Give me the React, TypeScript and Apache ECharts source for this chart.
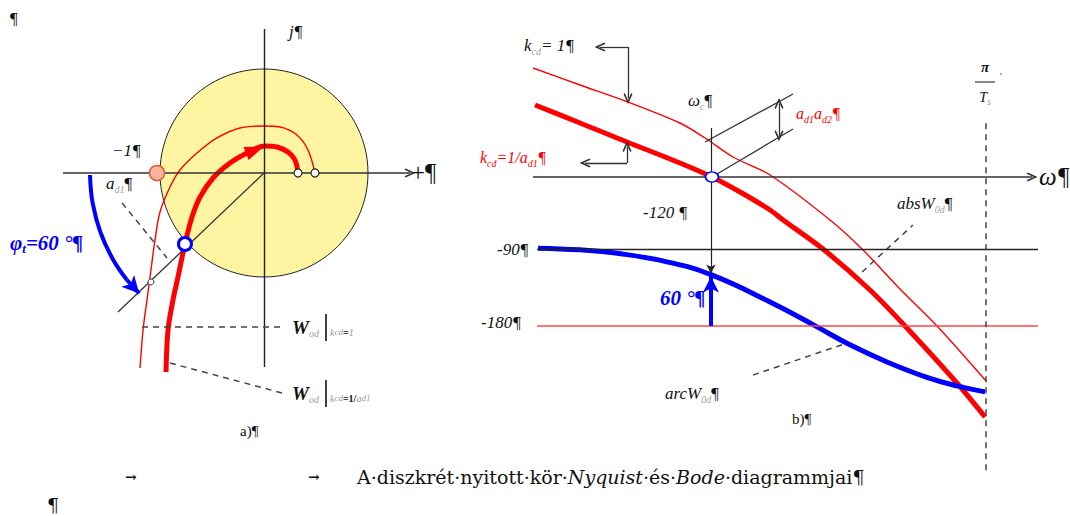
import { useEffect, useRef } from "react";
import * as echarts from "echarts";

const SERIF = "'Liberation Serif', serif";
const SLAB = "'DejaVu Serif', serif";

// ---------- a) Nyquist plane, values as [Re, Im] in units of the unit circle
const nyqUnitCircle = [[0, 0, 1]]; // centre Re, centre Im, radius
const nyqCurveK1 = [
  [0.49, 0], [0.423, 0.221], [0.317, 0.365], [0.154, 0.442], [-0.01, 0.452],
  [-0.231, 0.433], [-0.452, 0.337], [-0.644, 0.192], [-0.808, 0.029], [-0.904, -0.135],
  [-1.0, -0.375], [-1.048, -0.644], [-1.087, -0.933], [-1.125, -1.221], [-1.163, -1.51],
  [-1.192, -1.875],
];
const nyqCurveKd = [
  [0.327, 0], [0.298, 0.125], [0.231, 0.202], [0.125, 0.25], [0.01, 0.26],
  [-0.163, 0.192], [-0.327, 0.096], [-0.49, -0.048], [-0.615, -0.231], [-0.692, -0.423],
  [-0.76, -0.683], [-0.827, -1.0], [-0.875, -1.221], [-0.923, -1.51], [-0.942, -1.913],
];
const phaseMarginArc = [
  [-1.673, -0.019], [-1.648, -0.288], [-1.572, -0.572], [-1.449, -0.837], [-1.318, -1.029],
];
const phaseMarginTip = [[-1.318, -1.029], [-1.2, -1.158]];
const nyqRealAxis = [[-1.933, 0], [1.404, 0]];
const nyqImagAxis = [[0, 1.385], [0, -1.865]];
const nyqCrossRay = [[0, 0], [-1.404, -1.337]];
const nyqAdLeader = [[-1.365, -0.288], [-0.933, -0.817]];
const nyqW1Leader = [[-1.173, -1.481], [0.173, -1.481]];
const nyqW2Leader = [[-0.904, -1.827], [0.173, -2.115]];
const nyqMinusOne = [[-1.029, 0]];
const nyqEndPoints = [[0.327, 0], [0.49, 0]];
const nyqRayHit = [[-1.087, -1.048]];
const nyqCrossover = [[-0.76, -0.683]];
const nyqDirection = [[-0.087, 0.221]];

// ---------- b) Bode diagram, ω from 0 to π/T (T = 1)
const OMEGA_C = 1.234;
const OMEGA_N = Math.PI;
const bodeMagK1 = [
  [0, 27.25], [0.326, 23], [0.659, 18.75], [1.019, 13.5], [1.193, 9.75], [1.387, 5],
  [1.644, 0.5], [2.06, -10.75], [2.289, -18.25], [2.545, -28], [2.802, -37.25], [3.142, -51],
];
const bodeMagKd = [
  [0.014, 18], [0.326, 13.5], [0.652, 8.75], [1.019, 3.5], [1.241, 0], [1.436, -3.75],
  [1.644, -8.25], [1.734, -10.75], [2.011, -18], [2.337, -28.25], [2.58, -37.25],
  [2.94, -51.5], [3.135, -60],
];
const bodePhase = [
  [0.035, -89], [0.326, -91], [0.583, -95], [0.929, -105], [1.234, -120], [1.644, -152],
  [1.97, -181], [2.198, -202], [2.455, -222], [2.732, -240], [2.94, -250], [3.135, -257],
];
const bodeOmegaAxis = [[0, 0], [3.461, 0]];
const bodeK1Pointer = [[0.659, 32.5], [0.465, 32.5], [0.659, 19.6]];
const bodeKdPointer = [[0.652, 3.5], [0.652, 7.6], [0.361, 3.5]];
const bodeGainUpper = [[1.193, 8.75], [1.803, 20.75]];
const bodeGainLower = [[1.241, 0], [1.803, 12]];
const bodeGainGap = [[1.706, 18.4], [1.706, 10.3]];
const bodeAbsLeader = [[2.282, -23.75], [2.635, -12]];
const bodePhaseRefs = [-90, -180];
const bodeOmegaCLine = [[OMEGA_C, 51.4], [OMEGA_C, -118.5]];
const bodeMarginArrow = [[OMEGA_C, -180], [OMEGA_C, -122]];
const bodeNyquistLine = [[OMEGA_N, 57], [OMEGA_N, -350]];
const bodeArcLeader = [[1.526, -237.3], [2.178, -199.9]];
const bodeCrossover = [[1.241, 0]];

// ---------- layout
const MAG_MAX = 39.75;
const MAG_MIN = MAG_MAX - 457.72 / 4;

const RED = "#ff0000";
const BLUE = "#0000ff";
const INK = "#333333";
const V_ARROW = "path://M5,0L10,9L8.6,10L5,3.6L1.4,10L0,9Z";
const OPEN = { symbol: V_ARROW, symbolSize: [9, 11] };

type Sym = { symbol: string; symbolSize: number[] } | undefined;
function seg(a: number[], b: number[], lineStyle: any, end?: Sym, start?: Sym) {
  return [
    { coord: a, lineStyle, symbol: start ? start.symbol : "none", symbolSize: start ? start.symbolSize : 1 },
    { coord: b, symbol: end ? end.symbol : "none", symbolSize: end ? end.symbolSize : 1 },
  ];
}
const markLine = (data: any[]) => ({
  silent: true,
  symbol: ["none", "none"],
  label: { show: false },
  emphasis: { disabled: true },
  animation: false,
  data,
});

const RICH: any = {
  i: { fontFamily: SERIF, fontStyle: "italic", fontSize: 17, fill: "#111", lineHeight: 22 },
  n: { fontFamily: SERIF, fontSize: 17, fill: "#111", lineHeight: 22 },
  n15: { fontFamily: SERIF, fontSize: 15, fill: "#111", lineHeight: 20 },
  big: { fontFamily: SERIF, fontSize: 25, fill: "#111", lineHeight: 28 },
  s: { fontFamily: SERIF, fontStyle: "italic", fontSize: 10, fill: "#a0a0a0", lineHeight: 12, verticalAlign: "bottom" },
  m: { fontFamily: SERIF, fontStyle: "italic", fontSize: 14, fill: "#111", lineHeight: 18 },
  mp: { fontFamily: SERIF, fontStyle: "italic", fontWeight: "bold", fontSize: 15, fill: "#111", lineHeight: 18 },
  om: { fontFamily: SERIF, fontStyle: "italic", fontSize: 25, fill: "#111", lineHeight: 30 },
  tiny: { fontFamily: SERIF, fontSize: 10, fill: "#333", lineHeight: 12 },
  r: { fontFamily: SERIF, fontStyle: "italic", fontSize: 16, fill: RED, lineHeight: 22 },
  rs: { fontFamily: SERIF, fontStyle: "italic", fontSize: 10, fill: RED, lineHeight: 12, verticalAlign: "bottom" },
  b: { fontFamily: SERIF, fontStyle: "italic", fontWeight: "bold", fontSize: 21, fill: BLUE, lineHeight: 24 },
  bs: { fontFamily: SERIF, fontStyle: "italic", fontWeight: "bold", fontSize: 13, fill: BLUE, lineHeight: 14, verticalAlign: "bottom" },
  w: { fontFamily: SERIF, fontStyle: "italic", fontWeight: "bold", fontSize: 19, fill: "#111", lineHeight: 22 },
  g: { fontFamily: SERIF, fontStyle: "italic", fontSize: 10, fill: "#9a9a9a", lineHeight: 12 },
  gs: { fontFamily: SERIF, fontStyle: "italic", fontSize: 9, fill: "#9a9a9a", lineHeight: 12 },
  ge: { fontFamily: SERIF, fontWeight: "bold", fontSize: 10, fill: "#111", lineHeight: 12 },
  c: { fontFamily: SLAB, fontSize: 19, fill: "#111", lineHeight: 22 },
  ci: { fontFamily: SLAB, fontStyle: "italic", fontSize: 19, fill: "#111", lineHeight: 22 },
  ca: { fontFamily: SLAB, fontWeight: "bold", fontSize: 14, fill: "#111", lineHeight: 22 },
};

const txt = (x: number, y: number, text: string, align = "left") => ({
  type: "text",
  x,
  y,
  silent: true,
  style: {
    text,
    rich: RICH,
    align,
    verticalAlign: "middle",
    textAlign: align,
    textVerticalAlign: "middle",
    fill: "#111",
    fontFamily: SERIF,
    fontSize: 17,
  },
});
const rule = (x1: number, y1: number, x2: number, y2: number, w = 1.2) => ({
  type: "line",
  silent: true,
  shape: { x1, y1, x2, y2 },
  style: { stroke: "#111", lineWidth: w },
});

function buildOption(): any {
  const thinInk = { color: INK, width: 1.3, type: "solid" };
  const dashInk = { color: "#444", width: 1.5, type: [6, 5] };
  return {
    animation: false,
    backgroundColor: "#ffffff",
    grid: [
      { left: 4, top: 17, width: 468, height: 390 },
      { left: 533, top: 18, width: 519.11, height: 457.72 },
    ],
    xAxis: [
      { gridIndex: 0, type: "value", min: -2.5, max: 2.0, show: false },
      { gridIndex: 1, type: "value", min: 0, max: 3.6, show: false },
    ],
    yAxis: [
      { gridIndex: 0, type: "value", min: -2.25, max: 1.5, show: false },
      { gridIndex: 1, type: "value", min: MAG_MIN, max: MAG_MAX, show: false },
      { gridIndex: 1, type: "value", min: -355, max: 180, show: false },
    ],
    series: [
      // unit circle
      {
        type: "custom",
        xAxisIndex: 0,
        yAxisIndex: 0,
        z: 1,
        silent: true,
        data: nyqUnitCircle,
        renderItem: (_p: any, api: any) => {
          const c = api.coord([api.value(0), api.value(1)]);
          const r = api.size([api.value(2), 0])[0];
          return {
            type: "circle",
            shape: { cx: c[0], cy: c[1], r },
            style: { fill: "#fef5a3", stroke: "#222", lineWidth: 1 },
          };
        },
      },
      // Nyquist construction lines
      {
        type: "line",
        xAxisIndex: 0,
        yAxisIndex: 0,
        z: 2,
        silent: true,
        data: [[0, 0]],
        showSymbol: false,
        lineStyle: { width: 0 },
        markLine: markLine([
          seg(nyqRealAxis[0], nyqRealAxis[1], { color: INK, width: 1.6, type: "solid" }, OPEN),
          seg(nyqImagAxis[0], nyqImagAxis[1], { color: "#222", width: 1.4, type: "solid" }),
          seg(nyqCrossRay[0], nyqCrossRay[1], thinInk),
          seg(nyqAdLeader[0], nyqAdLeader[1], dashInk),
          seg(nyqW1Leader[0], nyqW1Leader[1], dashInk),
          seg(nyqW2Leader[0], nyqW2Leader[1], dashInk),
        ]),
      },
      {
        type: "line",
        xAxisIndex: 0,
        yAxisIndex: 0,
        z: 3,
        silent: true,
        smooth: 0.35,
        showSymbol: false,
        data: nyqCurveK1,
        lineStyle: { color: RED, width: 1.4 },
      },
      {
        type: "line",
        xAxisIndex: 0,
        yAxisIndex: 0,
        z: 3,
        silent: true,
        smooth: 0.35,
        showSymbol: false,
        data: nyqCurveKd,
        lineStyle: { color: RED, width: 5 },
      },
      {
        type: "line",
        xAxisIndex: 0,
        yAxisIndex: 0,
        z: 3,
        silent: true,
        smooth: 0.4,
        showSymbol: false,
        data: phaseMarginArc,
        lineStyle: { color: BLUE, width: 4 },
        markLine: markLine([
          seg(phaseMarginTip[0], phaseMarginTip[1], { color: BLUE, width: 4, type: "solid" }, {
            symbol: "arrow",
            symbolSize: [13, 17],
          }),
        ]),
      },
      // Nyquist points
      {
        type: "scatter",
        xAxisIndex: 0,
        yAxisIndex: 0,
        z: 5,
        silent: true,
        data: nyqMinusOne,
        symbolSize: 15,
        itemStyle: { color: "#f8b49a", borderColor: "#e35b3c", borderWidth: 1.5, opacity: 1 },
      },
      {
        type: "scatter",
        xAxisIndex: 0,
        yAxisIndex: 0,
        z: 5,
        silent: true,
        data: nyqEndPoints,
        symbolSize: 8,
        itemStyle: { color: "#fff", borderColor: "#222", borderWidth: 1.2, opacity: 1 },
      },
      {
        type: "scatter",
        xAxisIndex: 0,
        yAxisIndex: 0,
        z: 5,
        silent: true,
        data: nyqRayHit,
        symbolSize: 6,
        itemStyle: { color: "#fff", borderColor: "#333", borderWidth: 1, opacity: 1 },
      },
      {
        type: "scatter",
        xAxisIndex: 0,
        yAxisIndex: 0,
        z: 5,
        silent: true,
        data: nyqCrossover,
        symbolSize: 13,
        itemStyle: { color: "#fff", borderColor: BLUE, borderWidth: 3, opacity: 1 },
      },
      {
        type: "scatter",
        xAxisIndex: 0,
        yAxisIndex: 0,
        z: 5,
        silent: true,
        data: nyqDirection,
        symbol: "triangle",
        symbolSize: [14, 19],
        symbolRotate: -69,
        itemStyle: { color: RED, opacity: 1 },
      },
      // Bode construction lines on the gain scale
      {
        type: "line",
        xAxisIndex: 1,
        yAxisIndex: 1,
        z: 2,
        silent: true,
        data: [[0, 0]],
        showSymbol: false,
        lineStyle: { width: 0 },
        markLine: markLine([
          seg(bodeOmegaAxis[0], bodeOmegaAxis[1], { color: INK, width: 1.6, type: "solid" }, OPEN),
          seg(bodeK1Pointer[0], bodeK1Pointer[1], thinInk, OPEN),
          seg(bodeK1Pointer[0], bodeK1Pointer[2], thinInk, OPEN),
          seg(bodeKdPointer[0], bodeKdPointer[1], thinInk, OPEN),
          seg(bodeKdPointer[0], bodeKdPointer[2], thinInk, OPEN),
          seg(bodeGainUpper[0], bodeGainUpper[1], thinInk),
          seg(bodeGainLower[0], bodeGainLower[1], thinInk),
          seg(bodeGainGap[0], bodeGainGap[1], thinInk, OPEN, OPEN),
          seg(bodeAbsLeader[0], bodeAbsLeader[1], dashInk),
        ]),
      },
      // Bode construction lines on the phase scale
      {
        type: "line",
        xAxisIndex: 1,
        yAxisIndex: 2,
        z: 2,
        silent: true,
        data: [[0, -90]],
        showSymbol: false,
        lineStyle: { width: 0 },
        markLine: markLine([
          seg([0.028, bodePhaseRefs[0]], [3.502, bodePhaseRefs[0]], { color: "#222", width: 1.3, type: "solid" }),
          seg([0.028, bodePhaseRefs[1]], [3.502, bodePhaseRefs[1]], { color: "#ff4545", width: 1.6, type: "solid" }),
          seg(bodeOmegaCLine[0], bodeOmegaCLine[1], { color: "#222", width: 1.2, type: "solid" }, {
            symbol: "arrow",
            symbolSize: [7, 9],
          }),
          seg(bodeNyquistLine[0], bodeNyquistLine[1], dashInk),
          seg(bodeArcLeader[0], bodeArcLeader[1], dashInk),
        ]),
      },
      {
        type: "line",
        xAxisIndex: 1,
        yAxisIndex: 1,
        z: 3,
        silent: true,
        smooth: 0.3,
        showSymbol: false,
        data: bodeMagK1,
        lineStyle: { color: RED, width: 1.4 },
      },
      {
        type: "line",
        xAxisIndex: 1,
        yAxisIndex: 1,
        z: 3,
        silent: true,
        smooth: 0.3,
        showSymbol: false,
        data: bodeMagKd,
        lineStyle: { color: RED, width: 5 },
      },
      {
        type: "line",
        xAxisIndex: 1,
        yAxisIndex: 2,
        z: 3,
        silent: true,
        smooth: 0.45,
        showSymbol: false,
        data: bodePhase,
        lineStyle: { color: BLUE, width: 5 },
        markLine: markLine([
          seg(bodeMarginArrow[0], bodeMarginArrow[1], { color: BLUE, width: 4, type: "solid" }, {
            symbol: "arrow",
            symbolSize: [12, 16],
          }),
        ]),
      },
      {
        type: "scatter",
        xAxisIndex: 1,
        yAxisIndex: 1,
        z: 5,
        silent: true,
        data: bodeCrossover,
        symbolSize: [13, 10],
        itemStyle: { color: "#fff", borderColor: BLUE, borderWidth: 1.5, opacity: 1 },
      },
    ],
    graphic: [
      // a) Nyquist labels
      txt(10, 18, "{n|¶}"),
      txt(289, 31, "{i|j¶}"),
      txt(112, 150, "{i|−1¶}"),
      txt(411, 172, "{big|+¶}"),
      txt(106, 183, "{i|a}{s|d1}{n|¶}"),
      txt(10, 243, "{b|φ}{bs|t}{b|=60 °¶}"),
      txt(211, 231, "{i|ω}{s|c}{n|¶}"),
      txt(274, 200, "{m|ω =}"),
      txt(305, 191, "{mp|π}", "center"),
      rule(298, 199, 312, 199, 1),
      txt(305, 209, "{m|T}{s|s}", "center"),
      txt(292, 327, "{w|W}{s|od}"),
      rule(326, 314, 326, 341, 1.6),
      txt(330, 332, "{g|k}{gs|cd}{ge|=}{g|1}"),
      txt(292, 393, "{w|W}{s|od}"),
      rule(326, 380, 326, 407, 1.6),
      txt(330, 398, "{g|k}{gs|cd}{ge|=1/}{g|a}{gs|d1}"),
      txt(240, 431, "{n15|a)¶}"),
      // b) Bode labels
      txt(524, 45, "{i|k}{s|cd}{i|= 1¶}"),
      txt(688, 100, "{i|ω}{s|c}{n|¶}"),
      txt(796, 113, "{r|a}{rs|d1}{r|a}{rs|d2}{r|¶}"),
      txt(480, 157, "{r|k}{rs|cd}{r|=1/a}{rs|d1}{r|¶}"),
      txt(643, 212, "{i|-120 ¶}"),
      txt(497, 249, "{i|-90¶}"),
      txt(481, 322, "{i|-180¶}"),
      txt(660, 298, "{b|60 °¶}"),
      txt(897, 203, "{i|absW}{s|0d}{n|¶}"),
      txt(665, 393, "{i|arcW}{s|0d}{n|¶}"),
      txt(792, 419, "{n15|b)¶}"),
      txt(1039, 176, "{om|ω¶}"),
      txt(985, 67, "{mp|π}", "center"),
      rule(975, 82, 995, 82, 1),
      txt(985, 97, "{m|T}{s|s}", "center"),
      txt(1000, 76, "{tiny|'}"),
      // caption
      txt(125, 477, "{ca|→}"),
      txt(308, 477, "{ca|→}"),
      txt(357, 477, "{c|A·diszkrét·nyitott·kör·}{ci|Nyquist}{c|·és·}{ci|Bode}{c|·diagrammjai¶}"),
      txt(47, 505, "{c|¶}"),
    ],
  };
}

export default function App() {
  const ref = useRef<HTMLDivElement>(null);
  useEffect(() => {
    if (!ref.current) return;
    const chart = echarts.init(ref.current, undefined, { renderer: "svg" });
    chart.setOption(buildOption());
    return () => chart.dispose();
  }, []);
  return (
    <div
      ref={ref}
      style={{ position: "fixed", left: 0, top: 0, width: 1070, height: 516, background: "#fff" }}
    />
  );
}
